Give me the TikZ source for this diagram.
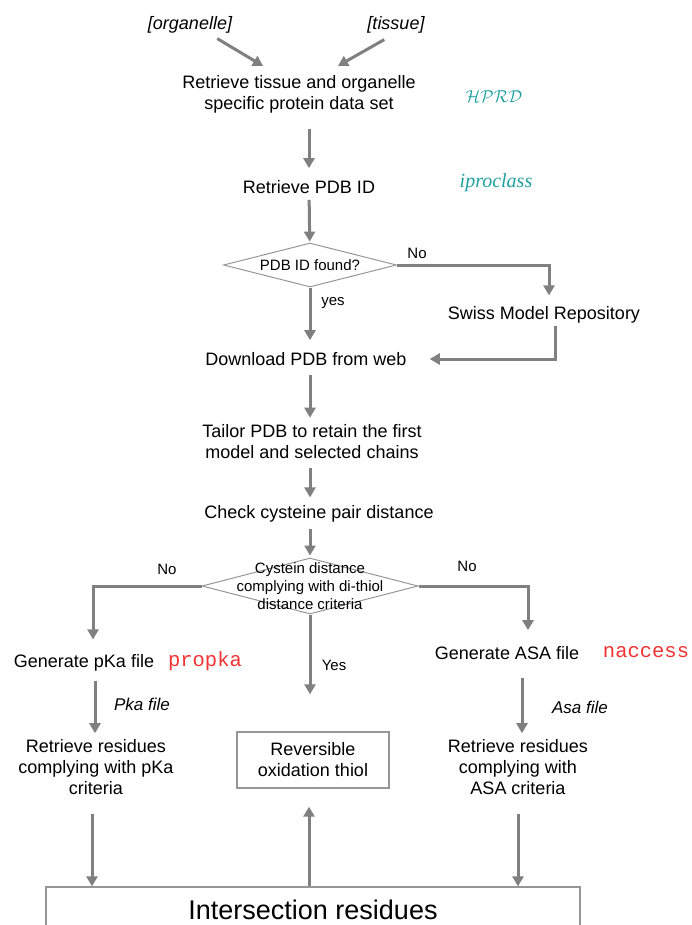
\documentclass[tikz,border=0pt]{standalone}
\usepackage{fontspec}
\setmainfont{Liberation Sans}
\newfontfamily\toolserif{Liberation Serif}
\newfontfamily\toolmono{Liberation Mono}
\usetikzlibrary{arrows.meta, calc, shapes.geometric}
\definecolor{linegray}{RGB}{128,128,128}
\definecolor{edgegray}{RGB}{150,150,150}
\definecolor{toolteal}{RGB}{30,160,160}
\definecolor{toolred}{RGB}{240,50,50}
\tikzset{
  stage/.style={inner sep=0pt, align=center, font=\fontsize{18}{21}\selectfont},
  note/.style={inner sep=0pt, font=\fontsize{18}{21}\selectfont\itshape},
  small/.style={inner sep=0pt, align=center, font=\fontsize{15}{18}\selectfont},
  answer/.style={inner sep=0pt, font=\fontsize{15}{18}\selectfont},
  check/.style={draw=edgegray, line width=1pt, diamond, aspect=3.9, inner sep=0pt},
  frame/.style={draw=edgegray, line width=1.4pt},
  arr/.style={draw=linegray, line width=3pt, -{Triangle[length=10pt,width=11pt]}}
}
\begin{document}
\begin{tikzpicture}[x=1pt,y=-1pt]
% Page frame
\useasboundingbox (0,0) rectangle (691,925);
% Inputs at the top
\node[note] (org) at (190,25) {[organelle]};
\node[note] (tis) at (396,25) {[tissue]};
% Main column of steps
\node[stage] (getset) at (299,94) {Retrieve tissue and organelle\\specific protein data set};
\node[stage] (getid) at (309,187) {Retrieve PDB ID};
\node[check, minimum width=173pt, minimum height=44pt] (hasid) at (310,265) {};
\node[small] (hasidtxt) at (hasid) {PDB ID found?};
\node[stage] (swiss) at (544,315) {Swiss Model Repository};
\node[stage] (fetch) at (306,359) {Download PDB from web};
\node[stage] (tailor) at (312,442) {Tailor PDB to retain the first\\model and selected chains};
\node[stage] (dist) at (319,514) {Check cysteine pair distance};
\node[check, minimum width=216pt, minimum height=56pt] (pair) at (310,586) {};
\node[small] (pairtxt) at (pair) {Cystein distance\\complying with di-thiol\\distance criteria};
% Two branches
\node[stage] (pkagen) at (84,663) {Generate pKa file};
\node[stage] (asagen) at (507,653) {Generate ASA file};
\node[stage] (retpka) at (96,767) {Retrieve residues\\complying with pKa\\criteria};
\node[stage] (retasa) at (518,767) {Retrieve residues\\complying with\\ASA criteria};
\node[stage, frame, minimum width=152pt, minimum height=56pt] (rev) at (313,760) {Reversible\\oxidation thiol};
% Result box, cut by the page edge
\node[frame, inner xsep=0pt, inner ysep=13pt, minimum width=534pt, font=\fontsize{27}{32}\selectfont] (inter) at (313,910) {Intersection residues};
% Tools used at each step
\node[inner sep=0pt, text=toolteal, font=\fontsize{17}{20}\selectfont] (hprd) at (494,97) {$\mathcal{HPRD}$};
\node[inner sep=0pt, text=toolteal, font=\fontsize{20}{24}\selectfont\toolserif\itshape] (ipc) at (496,183) {iproclass};
\node[inner sep=0pt, text=toolred, font=\fontsize{20.5}{24}\selectfont\toolmono] (propka) at (205,661) {propka};
\node[inner sep=0pt, text=toolred, font=\fontsize{20.5}{24}\selectfont\toolmono] (naccess) at (646,652) {naccess};
% Answers on the branches
\node[answer] (no1) at (417,253) {No};
\node[answer] (yes1) at (333,303) {yes};
\node[answer] (no2) at (167,569) {No};
\node[answer] (no3) at (467,566) {No};
\node[answer] (yes2) at (334,665) {Yes};
\node[note, font=\fontsize{17}{20}\selectfont\itshape] (pkafile) at (142,704) {Pka file};
\node[note, font=\fontsize{17}{20}\selectfont\itshape] (asafile) at (580,707) {Asa file};
% Arrows into the first step
\draw[arr] ([xshift=-15pt,yshift=-5pt]org.south east) -- ([xshift=-36pt,yshift=9pt]getset.north);
\draw[arr] ([xshift=17pt,yshift=-6pt]tis.south west) -- ([xshift=39pt,yshift=9pt]getset.north);
% Down the main column
\draw[arr, shorten <=16pt, shorten >=12pt] (getset.south -| getid) -- (getid);
\draw[arr, shorten <=6pt, shorten >=1pt] (getid) -- (hasid);
\draw[arr, shorten >=12pt] (hasid.south) -- (hasid.south |- fetch.north);
\draw[arr, shorten >=11pt] (hasid.east) -| ([xshift=5pt]swiss.north);
\draw[arr, shorten <=2pt, shorten >=23pt] ([xshift=11pt]swiss.south) |- (fetch);
\draw[arr, shorten <=9pt, shorten >=7pt] (fetch.south -| hasid) -- (tailor.north -| hasid);
\draw[arr, shorten <=9pt, shorten >=8pt] (tailor.south -| hasid) -- (dist.north -| hasid);
\draw[arr, shorten <=6pt, shorten >=2pt] (dist.south -| pair) -- (pair);
% Branches out of the second check
\draw[arr, shorten >=15pt] (pair.west) -| ([xshift=9pt]pkagen.north);
\draw[arr, shorten >=16pt] (pair.east) -| ([xshift=21pt]asagen.north);
\draw[arr, shorten >=37pt] (pair.south) -- (pair.south |- rev.north);
\draw[arr, shorten <=9pt, shorten >=6pt] ([xshift=11pt]pkagen.south) -- ([xshift=-1pt]retpka.north);
\draw[arr, shorten <=18pt, shorten >=6pt] ([xshift=15pt]asagen.south) -- ([xshift=4pt]retasa.north);
% Into the result box and up to the thiol box
\draw[arr, shorten <=19pt] ([xshift=-4pt]retpka.south) -- ([xshift=-4pt]retpka.south |- inter.north);
\draw[arr, shorten <=19pt] (retasa.south) -- (retasa.south |- inter.north);
\draw[arr, shorten >=18pt] ([xshift=-4pt]inter.north -| rev) -- ([xshift=-4pt]rev.south);
\end{tikzpicture}
\end{document}
